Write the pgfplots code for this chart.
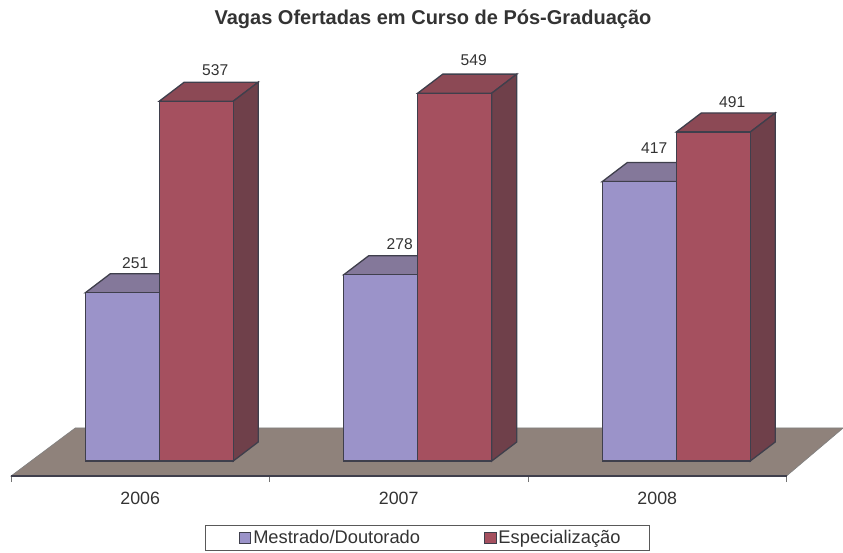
\documentclass[border=0pt]{standalone}
\usepackage{pgfplots}
\pgfplotsset{compat=1.18}
\usepackage{pgfplotstable}
\usepackage{fontspec}
\setmainfont{Liberation Sans}
\definecolor{blueface}{HTML}{9B93C9}
\definecolor{bluetop}{HTML}{84789A}
\definecolor{redface}{HTML}{A5505F}
\definecolor{redtop}{HTML}{8C4955}
\definecolor{redside}{HTML}{6F404A}
\definecolor{floorc}{HTML}{8F827B}
\definecolor{edge}{HTML}{3F3F4C}
\definecolor{txt}{HTML}{333333}
\pgfplotsset{
    sq/.style={legend image code/.code={
        \draw[##1, line width=0.9pt] (4pt,-5.5pt) rectangle (15.5pt,5.5pt);}},
    face/.style={draw=edge, line width=1.3pt, forget plot},
}
% idx, values, and offsets of the value labels from the group centre
\pgfplotstableread{
idx m   e   mdx mdy edx edy
0   251 537 -5  30  75  31
1   278 549  1  31  75  33
2   417 491 -3  33  75  30
}\vagas
\begin{document}
\begin{tikzpicture}
\useasboundingbox (-11pt,-76pt) rectangle (832pt,476pt);
\begin{axis}[
    x=258.5pt, y=0.67pt,
    xmin=-0.5, xmax=2.5,
    ymin=-22.4, ymax=600,
    clip=false,
    axis x line=bottom,
    axis y line=none,
    axis line style={edge, line width=1.3pt, -},
    xtick={0,1,2},
    xticklabels={2006,2007,2008},
    minor xtick={-0.5,0.5,1.5,2.5},
    major tick length=0pt,
    minor tick length=6pt,
    tick align=outside,
    minor tick style={black!55, line width=0.7pt},
    xticklabel style={font=\fontsize{17.8}{20}\selectfont, text=txt, yshift=-13pt},
    /pgf/number format/assume math mode=true,
    legend columns=2,
    legend style={
        at={(193.5pt,-49pt)}, anchor=north west,
        draw=black!65, line width=0.7pt, fill=white,
        inner xsep=34pt, inner ysep=3pt,
        font=\fontsize{18.3}{20}\selectfont, text=txt,
        /tikz/column 2/.style={column sep=62pt},
    },
    every node near coord/.append style={
        font=\fontsize{15.6}{18}\selectfont, text=txt, anchor=center,
        xshift=\lx pt, yshift=\ly pt,
    },
]
% floor
\addplot[fill=floorc, draw=black!50, line width=0.6pt, forget plot] coordinates
    {(-0.5,-22.4) (-0.2515,49.3) (2.7195,49.3) (2.5,-22.4)} --cycle;
\draw[edge, line width=1.3pt] (axis cs:-0.5,-22.4) -- (axis cs:2.5,-22.4);

% tops of the blue bars (their sides are behind the red bars)
\addplot[fill=bluetop, face] coordinates
    {(-0.2128,251) (-0.1161,279.4) (0.1702,279.4) (0.0735,251)} --cycle;
\addplot[fill=bluetop, face] coordinates
    {(0.7872,278) (0.8839,306.4) (1.1702,306.4) (1.0735,278)} --cycle;
\addplot[fill=bluetop, face] coordinates
    {(1.7872,417) (1.8839,445.4) (2.1702,445.4) (2.0735,417)} --cycle;

% front of the blue bars
\addplot[ybar, sq, bar width=74pt, bar shift=-18pt, fill=blueface, draw=edge, line width=1.3pt,
    visualization depends on={\thisrow{mdx} \as \lx},
    visualization depends on={\thisrow{mdy} \as \ly},
    nodes near coords]
    table[x=idx, y=m] {\vagas};
\addlegendentry{Mestrado/Doutorado}

% tops and sides of the red bars
\addplot[fill=redtop, face] coordinates
    {(0.0735,537) (0.1702,565.4) (0.4565,565.4) (0.3598,537)} --cycle;
\addplot[fill=redside, face] coordinates
    {(0.3598,0) (0.4565,28.4) (0.4565,565.4) (0.3598,537)} --cycle;
\addplot[fill=redtop, face] coordinates
    {(1.0735,549) (1.1702,577.4) (1.4565,577.4) (1.3598,549)} --cycle;
\addplot[fill=redside, face] coordinates
    {(1.3598,0) (1.4565,28.4) (1.4565,577.4) (1.3598,549)} --cycle;
\addplot[fill=redtop, face] coordinates
    {(2.0735,491) (2.1702,519.4) (2.4565,519.4) (2.3598,491)} --cycle;
\addplot[fill=redside, face] coordinates
    {(2.3598,0) (2.4565,28.4) (2.4565,519.4) (2.3598,491)} --cycle;

% front of the red bars
\addplot[ybar, sq, bar width=74pt, bar shift=56pt, fill=redface, draw=edge, line width=1.3pt,
    visualization depends on={\thisrow{edx} \as \lx},
    visualization depends on={\thisrow{edy} \as \ly},
    nodes near coords]
    table[x=idx, y=e] {\vagas};
\addlegendentry{Especialização\hspace*{-7pt}}

\node[font=\bfseries\fontsize{20}{24}\selectfont, text=txt] at (422pt,457pt) {Vagas Ofertadas em Curso de Pós-Graduação};
\end{axis}
\end{tikzpicture}
\end{document}
